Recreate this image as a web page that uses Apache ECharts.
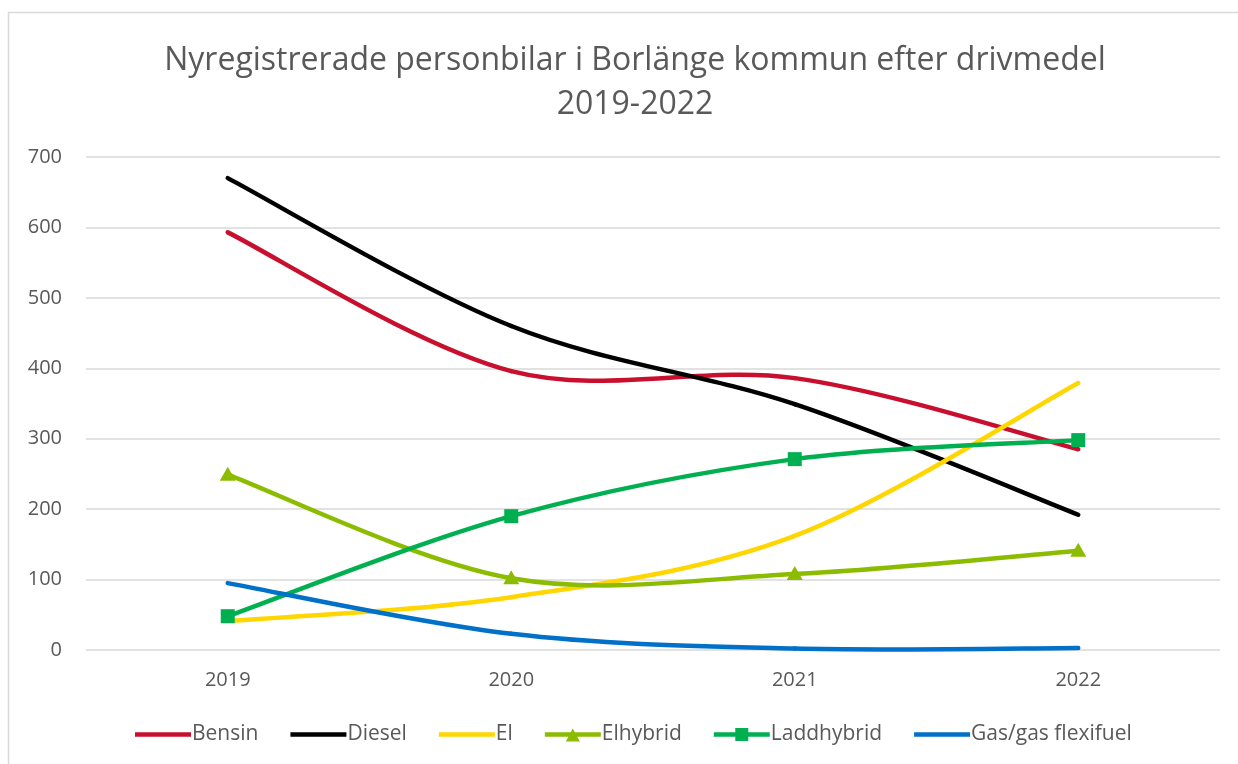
<!DOCTYPE html>
<html><head><meta charset="utf-8">
<script src="https://cdn.jsdelivr.net/npm/echarts@6/dist/echarts.min.js"></script>
<style>html,body{margin:0;padding:0;background:#fff}#c{width:1238px;height:764px}</style>
</head><body><div id="c"></div>
<script>
const years = ['2019','2020','2021','2022'];
const bensin = [593, 396, 386, 285];
const diesel = [670, 460, 349, 192];
const el = [41, 75, 162, 379];
const elhybrid = [249, 102, 108, 141];
const laddhybrid = [48, 190, 271, 298];
const gas = [95, 23, 2, 3];
const yTicks = [0, 100, 200, 300, 400, 500, 600, 700];

const font = 'Open Sans';
const LW = 4.5;
const chart = echarts.init(document.getElementById('c'));

// Smoothed line (Excel-like Catmull-Rom bezier) drawn via library coords
function mk(name, values, color, marker) {
  const n = values.length;
  return {
    name, type: 'custom', coordinateSystem: 'cartesian2d',
    data: values.map((v, i) => [years[i], v]),
    encode: { x: 0, y: 1 },
    itemStyle: { color },
    renderItem: function (params, api) {
      const i = params.dataIndexInside;
      const P = k => { k = Math.max(0, Math.min(n - 1, k)); return api.coord([api.value(0, k), api.value(1, k)]); };
      const children = [];
      if (i < n - 1) {
        const p0 = P(i - 1), p1 = P(i), p2 = P(i + 1), p3 = P(i + 2);
        children.push({
          type: 'bezierCurve',
          shape: {
            x1: p1[0], y1: p1[1], x2: p2[0], y2: p2[1],
            cpx1: p1[0] + (p2[0] - p0[0]) / 6, cpy1: p1[1] + (p2[1] - p0[1]) / 6,
            cpx2: p2[0] - (p3[0] - p1[0]) / 6, cpy2: p2[1] - (p3[1] - p1[1]) / 6
          },
          style: { stroke: color, lineWidth: LW, fill: null, lineCap: 'round' }
        });
      }
      const c = P(i);
      if (marker === 'triangle') {
        children.push({ type: 'polygon', shape: { points: [[c[0], c[1] - 8], [c[0] + 8, c[1] + 6], [c[0] - 8, c[1] + 6]] }, style: { fill: color } });
      } else if (marker === 'square') {
        children.push({ type: 'rect', shape: { x: c[0] - 7, y: c[1] - 7, width: 14, height: 14 }, style: { fill: color } });
      }
      return { type: 'group', children };
    }
  };
}
const box = 'M0,0 L0.01,0 L0.01,0.01 Z M56,16 L55.99,16 L55.99,15.99 Z ';
const lineIcon = 'path://' + box + 'M0,5.8 L56,5.8 L56,10.2 L0,10.2 Z';
const triIcon = lineIcon + ' M21,15 L28,2 L35,15 Z';
const sqIcon = lineIcon + ' M21.5,1.5 L34.5,1.5 L34.5,14.5 L21.5,14.5 Z';

chart.setOption({
  animation: false,
  title: {
    text: 'Nyregistrerade personbilar i Borlänge kommun efter drivmedel\n2019-2022',
    left: 630, top: 34, textAlign: 'center',
    textStyle: { fontFamily: font, fontSize: 32, fontWeight: 'normal', color: '#595959', lineHeight: 44, align: 'center' }
  },
  graphic: [{ type: 'rect', shape: { x: 8.5, y: 12.5, width: 1240, height: 760 }, style: { fill: 'none', stroke: '#d9d9d9', lineWidth: 1.5 }, silent: true }],
  grid: { left: 86, right: 18, top: 157, bottom: 114 },
  xAxis: {
    type: 'category', data: years, boundaryGap: true,
    axisLine: { show: false }, axisTick: { show: false },
    axisLabel: { fontFamily: font, fontSize: 20, color: '#595959', margin: 20 }
  },
  yAxis: {
    type: 'value', min: 0, max: 700, interval: 100,
    axisLabel: { fontFamily: font, fontSize: 20, color: '#595959', margin: 24, formatter: v => yTicks.includes(v) ? String(v) : '' },
    splitLine: { lineStyle: { color: '#d9d9d9', width: 1.5 } },
    axisLine: { show: false }, axisTick: { show: false }
  },
  legend: {
    bottom: 14, left: 130, itemGap: 32, itemWidth: 56, itemHeight: 16,
    textStyle: { fontFamily: font, fontSize: 21, color: '#595959', padding: [0, 0, 0, -4] },
    data: [
      { name: 'Bensin', icon: lineIcon },
      { name: 'Diesel', icon: lineIcon },
      { name: 'El', icon: lineIcon },
      { name: 'Elhybrid', icon: triIcon },
      { name: 'Laddhybrid', icon: sqIcon },
      { name: 'Gas/gas flexifuel', icon: lineIcon }
    ]
  },
  series: [
    mk('Bensin', bensin, '#c8102e'),
    mk('Diesel', diesel, '#000000'),
    mk('El', el, '#ffd600'),
    mk('Elhybrid', elhybrid, '#8cbc00', 'triangle'),
    mk('Laddhybrid', laddhybrid, '#00b050', 'square'),
    mk('Gas/gas flexifuel', gas, '#0070c8')
  ]
});
</script></body></html>
